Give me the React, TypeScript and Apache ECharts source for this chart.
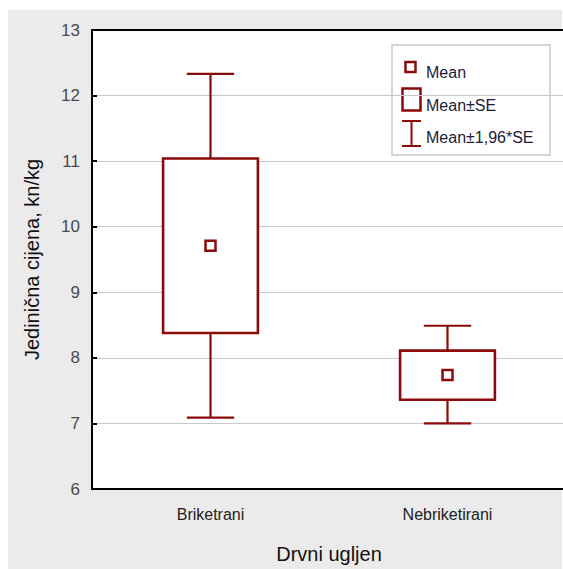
import React, { useEffect, useRef } from "react";
import * as echarts from "echarts";

const categories = ["Briketrani", "Nebriketirani"];
const means = [9.71, 7.74];
const seLow = [8.38, 7.36];
const seHigh = [11.04, 8.11];
const ciLow = [7.09, 7.0];
const ciHigh = [12.33, 8.49];
const yTicks = [6, 7, 8, 9, 10, 11, 12, 13];
const legendLabels = ["Mean", "Mean±SE", "Mean±1,96*SE"];

const RED = "#8B0A0A";
const FONT = "'Liberation Sans', Arial, sans-serif";

export default function App() {
  const ref = useRef<HTMLDivElement>(null);
  useEffect(() => {
    if (!ref.current) return;
    const chart = echarts.init(ref.current, undefined, { renderer: "svg" });
    const data = categories.map((c, i) => [i, means[i], seLow[i], seHigh[i], ciLow[i], ciHigh[i]]);
    const lx = 392, ly = 45;
    chart.setOption({
      animation: false,
      backgroundColor: "#ffffff",
      textStyle: { fontFamily: FONT },
      grid: {
        left: 92,
        top: 30,
        right: -3,
        bottom: 80,
        outerBoundsMode: "none",
        containLabel: false,
        show: true,
        backgroundColor: "#ffffff",
        borderWidth: 0,
      },
      xAxis: {
        type: "category",
        data: categories,
        boundaryGap: true,
        name: "Drvni ugljen",
        nameLocation: "middle",
        nameGap: 55,
        nameTextStyle: { fontSize: 20, color: "#111", fontFamily: FONT },
        axisLine: { lineStyle: { color: "#000", width: 2 } },
        axisTick: { alignWithLabel: true, inside: true, length: 5, lineStyle: { color: "#000", width: 2 } },
        axisLabel: { fontSize: 16, color: "#222", margin: 17, fontFamily: FONT },
        splitLine: { show: false },
      },
      yAxis: {
        type: "value",
        min: yTicks[0],
        max: yTicks[yTicks.length - 1],
        interval: 1,
        name: "Jedinična cijena, kn/kg",
        nameLocation: "middle",
        nameGap: 50,
        nameRotate: 90,
        nameTextStyle: { fontSize: 20, color: "#111", fontFamily: FONT },
        axisLine: { show: true, lineStyle: { color: "#000", width: 2 } },
        axisTick: { show: true, inside: true, length: 5, lineStyle: { color: "#000", width: 2 } },
        axisLabel: { fontSize: 17, color: "#4a4a4a", margin: 12, fontFamily: FONT },
        splitLine: { show: true, lineStyle: { color: "#c8c8c8", width: 1.2 } },
      },
      series: [
        {
          type: "custom",
          data,
          encode: { x: 0, y: [1, 2, 3, 4, 5] },
          renderItem: (params: any, api: any) => {
            const i = api.value(0);
            const band = api.size([1, 0])[0];
            const boxW = band * 0.4;
            const capW = band * 0.2;
            const pm = api.coord([i, api.value(1)]);
            const pLo = api.coord([i, api.value(2)]);
            const pHi = api.coord([i, api.value(3)]);
            const pCiLo = api.coord([i, api.value(4)]);
            const pCiHi = api.coord([i, api.value(5)]);
            const x = pm[0];
            const ls = { stroke: RED, lineWidth: 2.2, fill: null };
            return {
              type: "group",
              children: [
                { type: "line", shape: { x1: x, y1: pCiHi[1], x2: x, y2: pHi[1] }, style: ls },
                { type: "line", shape: { x1: x, y1: pLo[1], x2: x, y2: pCiLo[1] }, style: ls },
                { type: "line", shape: { x1: x - capW / 2, y1: pCiHi[1], x2: x + capW / 2, y2: pCiHi[1] }, style: ls },
                { type: "line", shape: { x1: x - capW / 2, y1: pCiLo[1], x2: x + capW / 2, y2: pCiLo[1] }, style: ls },
                {
                  type: "rect",
                  shape: { x: x - boxW / 2, y: pHi[1], width: boxW, height: pLo[1] - pHi[1] },
                  style: { stroke: RED, lineWidth: 2.6, fill: "#fff" },
                },
                {
                  type: "rect",
                  shape: { x: x - 5, y: pm[1] - 5, width: 10, height: 10 },
                  style: { stroke: RED, lineWidth: 2.5, fill: "#fff" },
                },
              ],
            };
          },
        },
      ],
      graphic: [
        {
          type: "rect",
          z: -10,
          silent: true,
          shape: { x: 8, y: 10, width: 554, height: 559 },
          style: { fill: "#ebebeb" },
        },
        {
          type: "line",
          z: 50,
          silent: true,
          shape: { x1: 91, y1: 30, x2: 563, y2: 30 },
          style: { stroke: "#000", lineWidth: 2 },
        },
        {
          type: "group",
          z: 100,
          children: [
            {
              type: "rect",
              shape: { x: lx, y: ly, width: 158, height: 110 },
              style: { fill: "#fff", stroke: "#c8c8c8", lineWidth: 1.5 },
            },
            {
              type: "rect",
              shape: { x: 405.5, y: 62, width: 10, height: 10 },
              style: { fill: "#fff", stroke: RED, lineWidth: 2.5 },
            },
            {
              type: "rect",
              shape: { x: 402.5, y: 88.5, width: 18, height: 22 },
              style: { fill: "#fff", stroke: RED, lineWidth: 2.5 },
            },
            { type: "line", shape: { x1: 411.5, y1: 121, x2: 411.5, y2: 146 }, style: { stroke: RED, lineWidth: 2 } },
            { type: "line", shape: { x1: 402, y1: 121, x2: 421, y2: 121 }, style: { stroke: RED, lineWidth: 2 } },
            { type: "line", shape: { x1: 402, y1: 146, x2: 421, y2: 146 }, style: { stroke: RED, lineWidth: 2 } },
            ...legendLabels.map((t, k) => ({
              type: "text",
              style: {
                x: 426,
                y: [72, 105, 137][k],
                text: t,
                fill: "#1c1c3a",
                fontSize: 16,
                fontFamily: FONT,
                verticalAlign: "middle",
                align: "left",
              },
            })),
          ],
        },
      ],
    });
    return () => chart.dispose();
  }, []);
  return (
    <div
      ref={ref}
      style={{ position: "absolute", left: 0, top: 0, width: 563, height: 569 }}
    />
  );
}
